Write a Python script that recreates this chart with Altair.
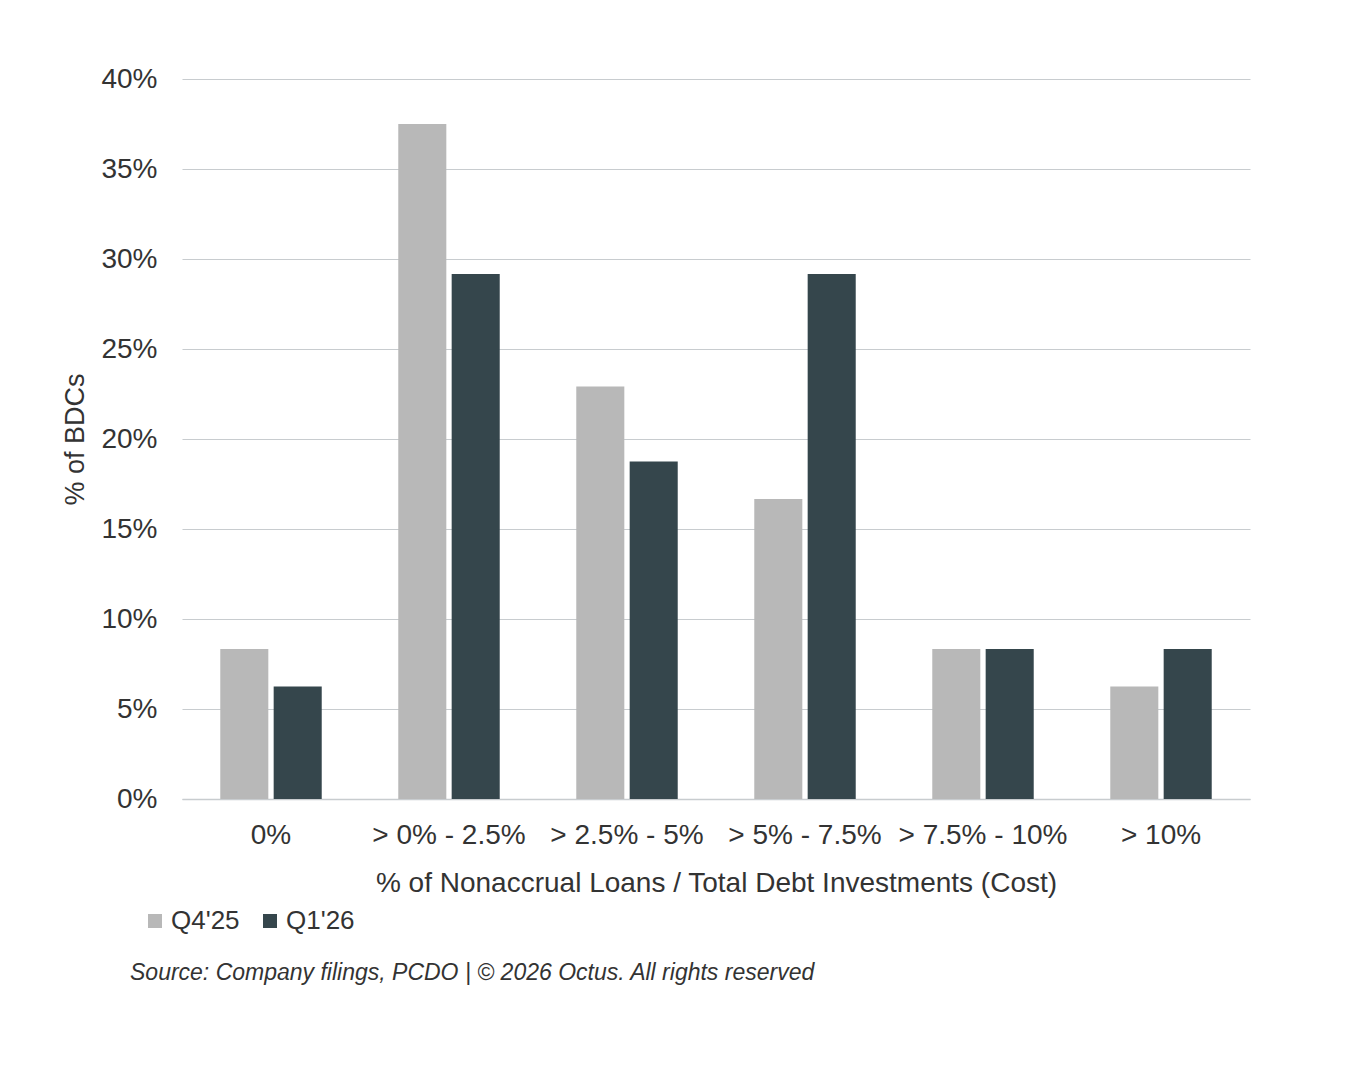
import pandas as pd
import altair as alt

categories = ["0%", "> 0% - 2.5%", "> 2.5% - 5%", "> 5% - 7.5%", "> 7.5% - 10%", "> 10%"]
q4_25 = [8.33, 37.5, 22.92, 16.67, 8.33, 6.25]
q1_26 = [6.25, 29.17, 18.75, 29.17, 8.33, 8.33]
series = ["Q4'25", "Q1'26"]
colors = ["#b8b8b8", "#35464c"]
source_note = "Source: Company filings, PCDO | © 2026 Octus. All rights reserved"

rows = []
for cat, a, b in zip(categories, q4_25, q1_26):
    rows.append({"bucket": cat, "period": series[0], "share": a / 100})
    rows.append({"bucket": cat, "period": series[1], "share": b / 100})
df = pd.DataFrame(rows)

FONT = "Liberation Sans"
TXT = "#333333"

bars = alt.Chart(df).mark_bar().encode(
    x=alt.X("bucket:N", sort=categories,
            scale=alt.Scale(paddingInner=0.43, paddingOuter=0.215),
            axis=alt.Axis(title="% of Nonaccrual Loans / Total Debt Investments (Cost)",
                          labelAngle=0, labelFontSize=28, titleFontSize=28,
                          labelColor=TXT, titleColor=TXT, titleFontWeight="normal",
                          labelPadding=22, titlePadding=20, ticks=False,
                          domainColor="#c8cccf", domainWidth=1.5)),
    xOffset=alt.XOffset("period:N", sort=series, scale=alt.Scale(paddingInner=0.1)),
    y=alt.Y("share:Q", scale=alt.Scale(domain=[0, 0.4]),
            axis=alt.Axis(title="% of BDCs", format=".0%", values=[i / 20 for i in range(9)],
                          labelFontSize=28, titleFontSize=27, labelColor=TXT, titleColor=TXT,
                          titleFontWeight="normal", labelPadding=25, titlePadding=11,
                          ticks=False, domain=False, gridColor="#c8cccf", gridWidth=1.2)),
    color=alt.Color("period:N", sort=series,
                    scale=alt.Scale(domain=series, range=colors),
                    legend=alt.Legend(title=None, orient="none", direction="horizontal",
                                      legendX=-40, legendY=829, symbolType="square",
                                      symbolSize=196, symbolStrokeWidth=0,
                                      labelFontSize=26, labelColor=TXT,
                                      labelOffset=3, columnPadding=17)),
)

note = alt.Chart(pd.DataFrame({"t": [source_note]})).mark_text(
    align="left", baseline="middle", fontSize=23, fontStyle="italic", font=FONT, color=TXT
).encode(text="t:N", x=alt.value(-52), y=alt.value(894))

chart = alt.layer(bars, note).properties(
    width=1068, height=720,
    autosize=alt.AutoSizeParams(type="none"),
    padding={"left": 174, "top": 71, "right": 92, "bottom": 273},
    background="white",
).configure(font=FONT).configure_view(stroke=None)

chart.save("out.html", embed_options={"renderer": "svg", "actions": False})
